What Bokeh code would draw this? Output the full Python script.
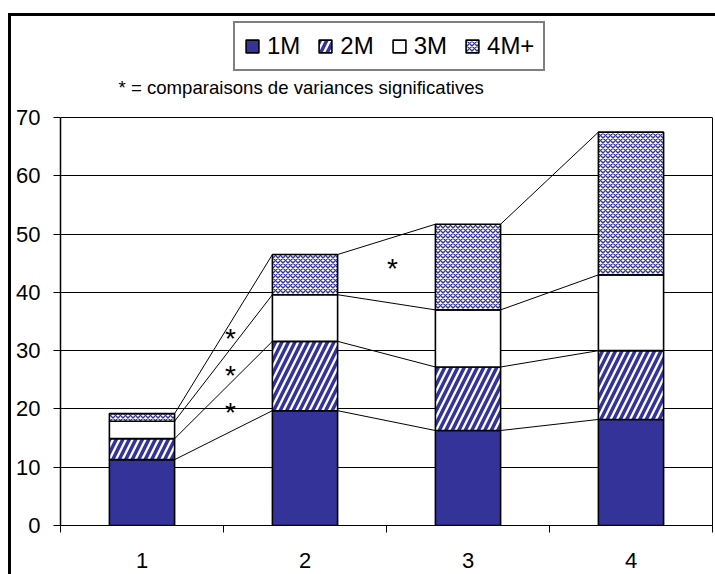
import numpy as np
from bokeh.plotting import figure
from bokeh.models import FixedTicker, Label, LinearAxis
from bokeh.core.properties import value
from bokeh.embed import file_html
from bokeh.resources import INLINE

# ---- data ----
groups = ["1", "2", "3", "4"]
series = ["1M", "2M", "3M", "4M+"]
v_1m = [11.3, 19.7, 16.3, 18.2]
v_2m = [3.6, 11.9, 10.9, 11.8]
v_3m = [3.0, 8.0, 9.8, 13.0]
v_4m = [1.3, 6.9, 14.7, 24.5]
y_ticks = [0, 10, 20, 30, 40, 50, 60, 70]
note = "* = comparaisons de variances significatives"
star_x = [1.543, 1.543, 1.543, 2.537]
star_y = [32.6, 26.3, 19.9, 44.6]

FONT = "Liberation Sans"
NAVY = "#333399"
BAR_W = 0.4

xs = np.arange(1, len(groups) + 1, dtype=float)
values = [np.array(v_1m), np.array(v_2m), np.array(v_3m), np.array(v_4m)]
tops = np.cumsum(values, axis=0)
bottoms = tops - np.array(values)

p = figure(width=715, height=574, x_range=(0.5, 4.5), y_range=(0, 87.0),
           output_backend="svg", toolbar_location=None,
           min_border_left=60, min_border_right=3,
           min_border_top=18, min_border_bottom=49)
p.title = None
p.border_fill_color = None
p.background_fill_color = None
p.outline_line_color = None
p.styles = {
    "background-color": "white",
    "box-shadow": ("inset 0 13px 0 0 white, inset 8px 0 0 0 white, "
                   "inset 0 16px 0 0 black, inset 11px 0 0 0 black"),
}

# grid
p.xgrid.grid_line_color = None
p.ygrid.grid_line_color = "black"
p.ygrid.grid_line_width = 1

# connecting lines between bar tops
for k in range(4):
    p.segment(x0=xs[:-1] + BAR_W / 2, y0=tops[k][:-1],
              x1=xs[1:] - BAR_W / 2, y1=tops[k][1:],
              line_color="black", line_width=1)

styles = [
    dict(fill_color=NAVY),
    dict(fill_color="white", hatch_pattern="/", hatch_color=NAVY,
         hatch_scale=13, hatch_weight=3.5),
    dict(fill_color="white"),
    dict(fill_color="white", hatch_pattern="x", hatch_color=NAVY,
         hatch_scale=5, hatch_weight=1.4),
]
for k in range(4):
    p.vbar(x=xs, bottom=bottoms[k], top=tops[k], width=BAR_W,
           line_color="black", line_width=1.6,
           legend_label=series[k], **styles[k])

# asterisks
p.text(x=star_x, y=star_y, text=["*"] * len(star_x),
       text_font=value(FONT), text_font_size="28px", text_color="black",
       text_align="center", text_baseline="middle", y_offset=3)

# note
p.add_layout(Label(x=0.856, y=75.1, text=note, text_font=FONT,
                   text_font_size="18.6px", text_color="black",
                   text_baseline="alphabetic"))

# axes
p.yaxis.ticker = FixedTicker(ticks=y_ticks, minor_ticks=[])
p.yaxis.bounds = (0, 70)
p.yaxis.major_tick_out = 7
p.yaxis.major_tick_in = 0
p.yaxis.major_label_standoff = 13
p.yaxis.axis_line_width = 1.5
p.yaxis.major_label_text_font = FONT
p.yaxis.major_label_text_font_size = "22px"
p.yaxis.major_label_text_color = "black"

right = LinearAxis(ticker=FixedTicker(ticks=[], minor_ticks=[]), bounds=(0, 70),
                   axis_line_color="black", axis_line_width=1,
                   major_tick_line_color=None, minor_tick_line_color=None,
                   major_label_text_font_size="0px")
p.add_layout(right, "right")

p.xaxis.ticker = FixedTicker(ticks=list(xs), minor_ticks=list(np.arange(0.5, 5.0, 1.0)))
p.xaxis.major_label_overrides = {float(x): g for x, g in zip(xs, groups)}
p.xaxis.major_tick_line_color = None
p.xaxis.major_tick_out = 0
p.xaxis.major_tick_in = 0
p.xaxis.minor_tick_out = 7
p.xaxis.minor_tick_in = 0
p.xaxis.minor_tick_line_color = "black"
p.xaxis.major_label_standoff = 20
p.xaxis.major_label_text_font = FONT
p.xaxis.major_label_text_font_size = "22px"
p.xaxis.major_label_text_color = "black"
p.xaxis.axis_line_color = "black"

# legend
lg = p.legend[0]
lg.orientation = "horizontal"
lg.location = (173, 454)
lg.label_text_font = FONT
lg.label_text_font_size = "24px"
lg.label_text_color = "black"
lg.glyph_width = 16
lg.glyph_height = 16
lg.label_standoff = 7
lg.spacing = 17
lg.padding = 9
lg.margin = 0
lg.border_line_color = "black"
lg.border_line_width = 2
lg.background_fill_color = "white"
lg.background_fill_alpha = 1.0

open("out.html", "w").write(file_html(p, INLINE))
